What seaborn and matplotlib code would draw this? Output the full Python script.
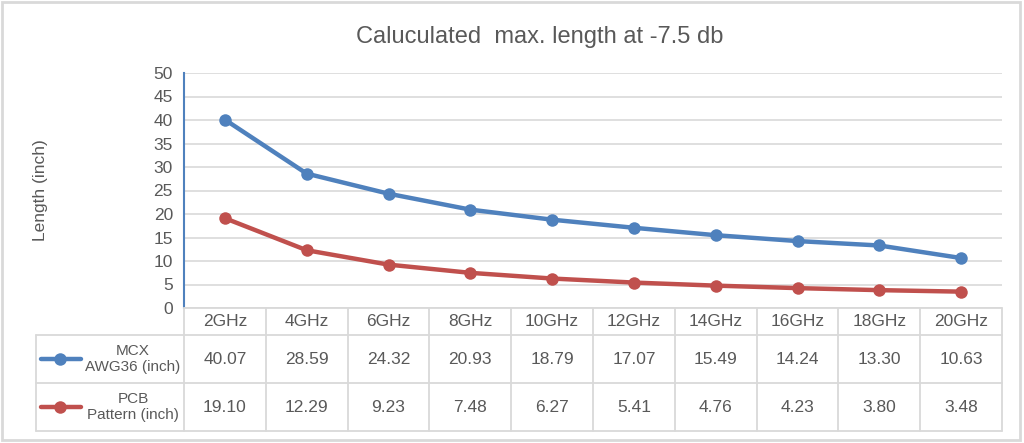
import seaborn as sns
from matplotlib import pyplot as plt
from matplotlib.lines import Line2D
from matplotlib.patches import Rectangle
import pandas as pd
import numpy as np

sns.set_theme(style="white")
plt.rcParams['font.family'] = ['Liberation Sans Narrow', 'Liberation Sans', 'DejaVu Sans']

# data
freqs = ['2GHz', '4GHz', '6GHz', '8GHz', '10GHz', '12GHz', '14GHz', '16GHz', '18GHz', '20GHz']
mcx = [40.07, 28.59, 24.32, 20.93, 18.79, 17.07, 15.49, 14.24, 13.30, 10.63]
pcb = [19.10, 12.29, 9.23, 7.48, 6.27, 5.41, 4.76, 4.23, 3.80, 3.48]
series_names = ['MCX\nAWG36 (inch)', 'PCB\nPattern (inch)']
title = 'Caluculated  max. length at -7.5 db'
ylabel = 'Length (inch)'

blue = '#4F81BD'
red = '#C0504D'
txt = '#595959'
grid = '#D9D9D9'

df = pd.DataFrame({
    'x': list(range(len(freqs))) * 2,
    'value': mcx + pcb,
    'series': [series_names[0]] * len(freqs) + [series_names[1]] * len(freqs),
})

W, H = 1024, 443
fig = plt.figure(figsize=(W / 100, H / 100), dpi=100)

def fx(x):
    return x / W

def fy(y):
    return 1 - y / H

L, R, T, B = 184, 1002, 73, 308
ax = fig.add_axes([fx(L), fy(B), fx(R - L), (B - T) / H])

sns.lineplot(data=df, x='x', y='value', hue='series', palette=[blue, red],
             marker='o', markersize=9, markeredgewidth=0, linewidth=3.2,
             legend=False, ax=ax)

ax.set_xlim(-0.5, len(freqs) - 0.5)
ax.set_ylim(0, 50)
ax.set_yticks(range(0, 51, 5))
ax.set_xticks([])
ax.set_xlabel('')
ax.set_ylabel('')
ax.yaxis.grid(True, color=grid, linewidth=1.2)
ax.tick_params(axis='y', colors=txt, labelsize=12.5, length=0, pad=8)
for s in ['top', 'right', 'bottom']:
    ax.spines[s].set_visible(False)
ax.spines['left'].set_color(blue)
ax.spines['left'].set_linewidth(1.5)

fig.text(fx(540), fy(37), title, ha='center', va='center', fontsize=17, color=txt)
fig.text(fx(40), fy(190), ylabel, ha='center', va='center', rotation=90,
         fontsize=12.5, color=txt)

# data table
cw = (R - L) / len(freqs)
rows = [B, 335, 383, 431]
lines = []
lines.append(([L, R], [rows[0], rows[0]]))
for y in rows[1:]:
    lines.append(([36, R], [y, y]))
for k in range(len(freqs) + 1):
    x = L + k * cw
    lines.append(([x, x], [rows[0], rows[3]]))
lines.append(([36, 36], [rows[1], rows[3]]))
for xs, ys in lines:
    fig.add_artist(Line2D([fx(v) for v in xs], [fy(v) for v in ys],
                          color=grid, linewidth=1.3))

for k, f in enumerate(freqs):
    cx = L + (k + 0.5) * cw
    fig.text(fx(cx), fy((rows[0] + rows[1]) / 2), f, ha='center', va='center',
             fontsize=12.5, color=txt)
    fig.text(fx(cx), fy((rows[1] + rows[2]) / 2), f'{mcx[k]:.2f}', ha='center',
             va='center', fontsize=12.5, color=txt)
    fig.text(fx(cx), fy((rows[2] + rows[3]) / 2), f'{pcb[k]:.2f}', ha='center',
             va='center', fontsize=12.5, color=txt)

for i, (name, col) in enumerate(zip(series_names, [blue, red])):
    cy = (rows[1 + i] + rows[2 + i]) / 2
    fig.add_artist(Line2D([fx(41), fx(81)], [fy(cy), fy(cy)], color=col,
                          linewidth=3.2, solid_capstyle='round'))
    fig.add_artist(Line2D([fx(60)], [fy(cy)], color=col, marker='o',
                          markersize=9, markeredgewidth=0))
    fig.text(fx(133), fy(cy), name, ha='center', va='center', fontsize=11,
             color=txt, linespacing=1.15)

fig.add_artist(Rectangle((fx(2), fy(440)), fx(1018), (438) / H, fill=False,
                         edgecolor=grid, linewidth=2))

fig.savefig('out.png', dpi=100)
